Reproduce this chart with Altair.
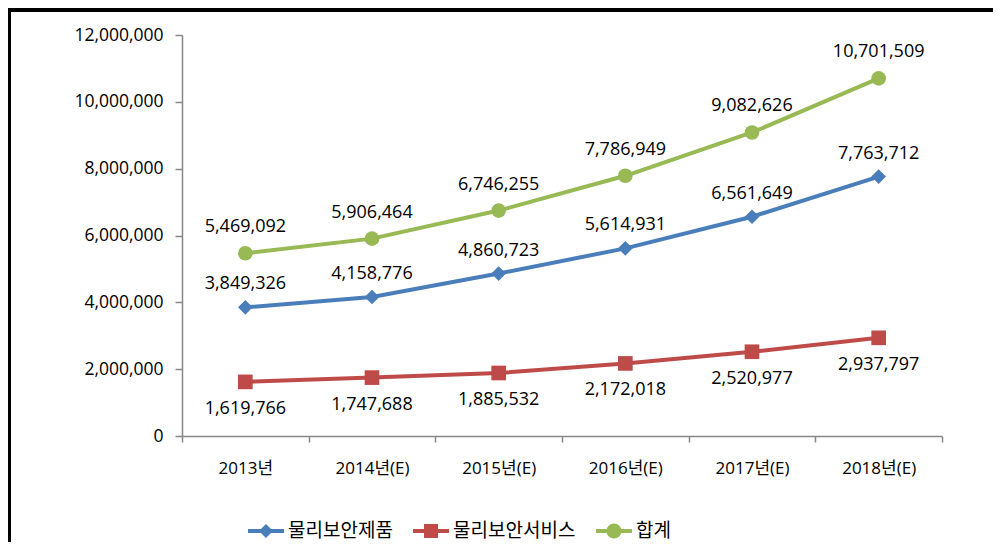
import math
import altair as alt
import pandas as pd

# ---- data ----
years = ["2013년", "2014년(E)", "2015년(E)", "2016년(E)", "2017년(E)", "2018년(E)"]
series_names = ["물리보안제품", "물리보안서비스", "합계"]
products = [3849326, 4158776, 4860723, 5614931, 6561649, 7763712]
services = [1619766, 1747688, 1885532, 2172018, 2520977, 2937797]
totals = [5469092, 5906464, 6746255, 7786949, 9082626, 10701509]
y_ticks = [0, 2000000, 4000000, 6000000, 8000000, 10000000, 12000000]

colors = ["#4A7EBB", "#BE4B48", "#98B954"]
marker_shapes = ["diamond", "square", "circle"]
label_dy = [-23, 27, -26]

rows = []
for name, vals in zip(series_names, [products, services, totals]):
    for yr, v in zip(years, vals):
        rows.append({"year": yr, "series": name, "value": v})
df = pd.DataFrame(rows)

FONT = "'Open Sans', 'Noto Sans CJK KR', sans-serif"
AXIS_GRAY = "#868686"

# legend symbols: line + marker (unit box -1..1)
h = 0.111
bar = f"M-1,{-h} L1,{-h} L1,{h} L-1,{h} Z"
d = 0.39
diamond = f" M0,{-d} L{d},0 L0,{d} L{-d},0 Z"
square = f" M{-d},{-d} L{d},{-d} L{d},{d} L{-d},{d} Z"
r = 0.42
pts = [(r * math.cos(2 * math.pi * k / 24), r * math.sin(2 * math.pi * k / 24)) for k in range(24)]
circle = " M" + " L".join(f"{px:.3f},{py:.3f}" for px, py in pts) + " Z"
legend_paths = [bar + diamond, bar + square, bar + circle]

x_enc = alt.X(
    "year:N",
    sort=years,
    bandPosition=0.5,
    scale=alt.Scale(type="band", domain=years, paddingInner=0, paddingOuter=0),
    axis=alt.Axis(
        title=None, labelAngle=0, tickBand="extent", grid=False,
        domainColor=AXIS_GRAY, tickColor=AXIS_GRAY, tickSize=6, tickWidth=1.5, domainWidth=1.5,
        labelPadding=18, labelFontSize=17, labelFont=FONT, labelColor="#000000",
    ),
)
y_enc = alt.Y(
    "value:Q",
    scale=alt.Scale(domain=[0, 12000000], nice=False),
    axis=alt.Axis(
        title=None, values=y_ticks, labelExpr="format(datum.value, ',d')", grid=False,
        domainColor=AXIS_GRAY, tickColor=AXIS_GRAY, tickSize=7, tickWidth=1.5, domainWidth=1.5,
        labelPadding=12, labelFontSize=17.5, labelFont=FONT, labelColor="#000000",
    ),
)
color_nolegend = alt.Color("series:N", scale=alt.Scale(domain=series_names, range=colors), legend=None)

base = alt.Chart(df)

lines = base.mark_line(strokeWidth=4).encode(x=x_enc, y=y_enc, color=color_nolegend)

points = base.mark_point(filled=True, opacity=1, size=215).encode(
    x=x_enc, y=y_enc, color=color_nolegend,
    shape=alt.Shape("series:N", scale=alt.Scale(domain=series_names, range=marker_shapes), legend=None),
)

texts = []
for name, dy in zip(series_names, label_dy):
    texts.append(
        base.transform_filter(alt.datum.series == name)
        .mark_text(dy=dy, fontSize=18, font=FONT, color="#000000")
        .encode(x=x_enc, y=y_enc, text=alt.Text("value:Q", format=",d"))
    )

legend_layer = base.transform_filter("datum.value < 0").mark_point(filled=True, opacity=1).encode(
    color=alt.Color(
        "series:N",
        scale=alt.Scale(domain=series_names, range=colors),
        legend=alt.Legend(
            title=None, orient="none", legendX=66, legendY=478, direction="horizontal",
            symbolSize=1296, symbolStrokeWidth=0, symbolOpacity=1,
            labelFontSize=19, labelFont=FONT, labelColor="#000000",
            labelOffset=4, columnPadding=20, padding=0,
        ),
    ),
    shape=alt.Shape("series:N", scale=alt.Scale(domain=series_names, range=legend_paths)),
)

frame_df = pd.DataFrame({"k": [0]})
frame_top = alt.Chart(frame_df).mark_rule(color="black", strokeWidth=4).encode(
    x=alt.value(-180), x2=alt.value(900), y=alt.value(-25)
)
frame_left = alt.Chart(frame_df).mark_rule(color="black", strokeWidth=4).encode(
    x=alt.value(-173), y=alt.value(-30), y2=alt.value(600)
)

chart = (
    alt.layer(lines, points, *texts, legend_layer, frame_top, frame_left)
    .resolve_scale(color="independent", shape="independent")
    .properties(
        width=760,
        height=401,
        autosize=alt.AutoSizeParams(type="none"),
        padding={"left": 174, "top": 27, "right": 51, "bottom": 106},
        background="white",
    )
    .configure_view(stroke=None)
)

chart.save("out.html", embed_options={"renderer": "svg", "actions": False})
